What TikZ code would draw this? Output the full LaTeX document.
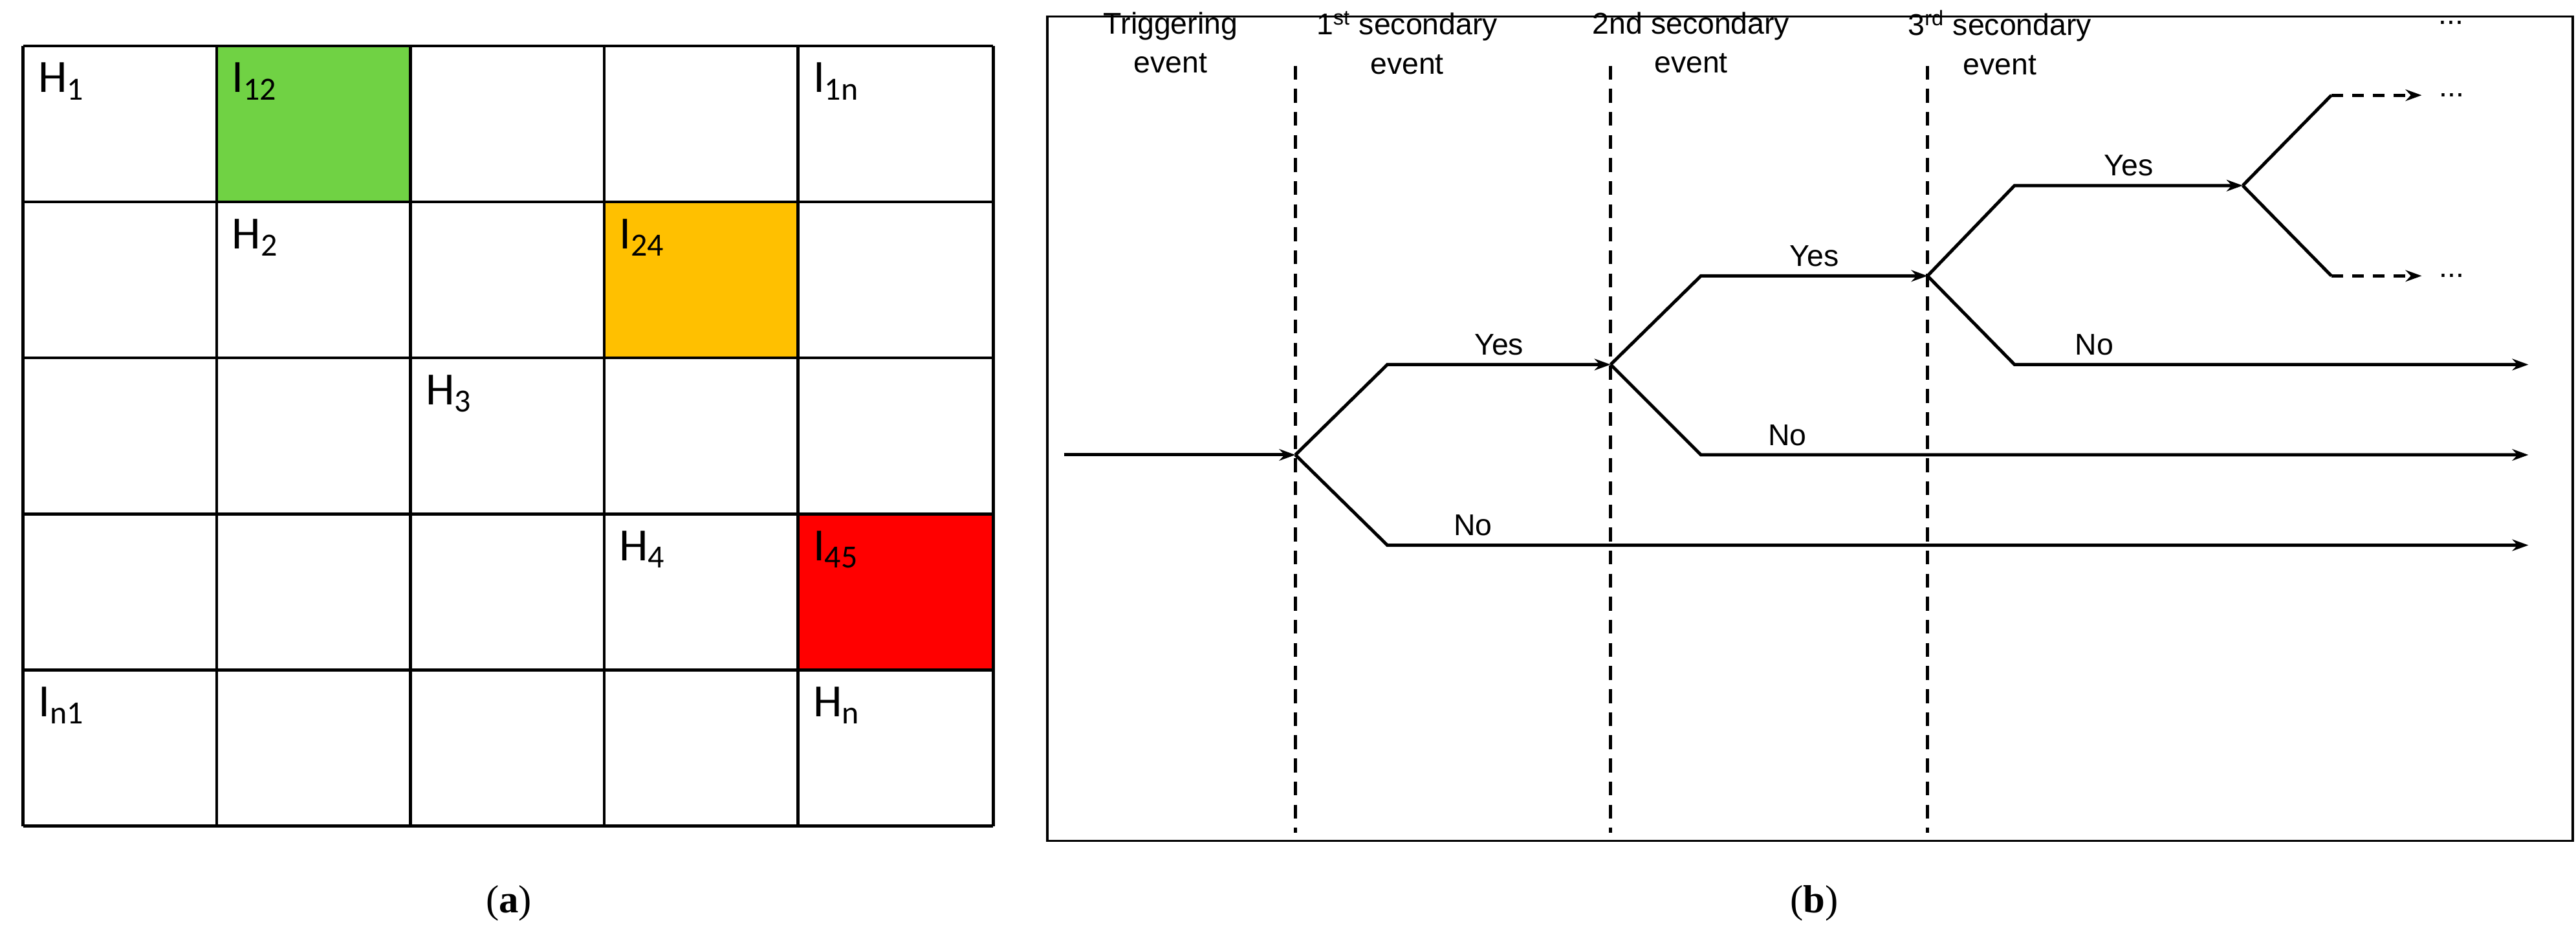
\documentclass[tikz,border=0pt]{standalone}
\usepackage{fontspec}
\setmainfont{Liberation Serif}
\newfontfamily\cellfont{Carlito}
\newfontfamily\treefont{Liberation Sans}
\usetikzlibrary{arrows.meta}
\definecolor{cellgreen}{RGB}{112,210,68}
\definecolor{cellorange}{RGB}{255,192,0}
\definecolor{cellred}{RGB}{255,0,0}
\tikzset{
  cell/.style={anchor=north west,inner sep=0pt,font=\cellfont\fontsize{20}{22}\selectfont},
  head/.style={align=center,font=\treefont\fontsize{13}{17}\selectfont},
  lab/.style={font=\treefont\fontsize{13}{15}\selectfont,above},
  path/.style={line width=1.4pt,-{Stealth[length=7pt,width=5pt]}},
  more/.style={line width=1.4pt,dashed,dash pattern=on 5pt off 4pt,-{Stealth[length=7pt,width=5pt]}},
  subcap/.style={font=\fontsize{17}{20}\selectfont}
}
\begin{document}
\begin{tikzpicture}[x=0.025cm,y=-0.025cm]
  \useasboundingbox (0,0) rectangle (1569,569);

  % matrix
  \fill[cellgreen] (132,28) rectangle (250,123);
  \fill[cellorange] (368,123) rectangle (486,218);
  \fill[cellred] (486,313) rectangle (605,408);
  \foreach \x in {14,132,250,368,486,605}
    \draw[line width=1.2pt] (\x,28) -- (\x,503);
  \foreach \y in {28,123,218,313,408,503}
    \draw[line width=1.2pt] (14,\y) -- (605,\y);

  \node[cell] (h1) at (23,38) {H\textsubscript{1}};
  \node[cell] (i12) at (141,38) {I\textsubscript{12}};
  \node[cell] (i1n) at (495,38) {I\textsubscript{1n}};
  \node[cell] (h2) at (141,133) {H\textsubscript{2}};
  \node[cell] (i24) at (377,133) {I\textsubscript{24}};
  \node[cell] (h3) at (259,228) {H\textsubscript{3}};
  \node[cell] (h4) at (377,323) {H\textsubscript{4}};
  \node[cell] (i45) at (495,323) {I\textsubscript{45}};
  \node[cell] (in1) at (23,418) {I\textsubscript{n1}};
  \node[cell] (hn) at (495,418) {H\textsubscript{n}};

  \node[subcap] (capa) at (310,550) {(\textbf{a})};

  % event tree
  \draw[line width=1pt] (638,10) rectangle (1567,512);
  \foreach \x in {789,981,1174}
    \draw[line width=1.3pt,dash pattern=on 6pt off 4pt] (\x,40) -- (\x,507);

  \node[head] (t0) at (713,26) {Triggering\\event};
  \node[head] (t1) at (857,26) {1\textsuperscript{st} secondary\\event};
  \node[head] (t2) at (1030,26) {2nd secondary\\event};
  \node[head] (t3) at (1218,26) {3\textsuperscript{rd} secondary\\event};
  \node[head] (t4) at (1493,14) {...};

  \coordinate (s0) at (648,277);
  \coordinate (b1) at (789,277);
  \coordinate (y1) at (845,222);
  \coordinate (n1) at (845,332);
  \coordinate (b2) at (981,222);
  \coordinate (y2) at (1036,168);
  \coordinate (n2) at (1036,277);
  \coordinate (b3) at (1174,168);
  \coordinate (y3) at (1227,113);
  \coordinate (n3) at (1227,222);
  \coordinate (b4) at (1366,113);
  \coordinate (y4) at (1420,58);
  \coordinate (n4) at (1420,168);
  \coordinate (e1) at (1540,332);
  \coordinate (e2) at (1540,277);
  \coordinate (e3) at (1540,222);
  \coordinate (e4) at (1475,58);
  \coordinate (e5) at (1475,168);

  \draw[path] (s0) -- (b1);
  \draw[path] (b1) -- (y1) -- node[lab] {Yes} (b2);
  \draw[path] (b1) -- (n1) -- node[lab,pos=0.05,anchor=south west] {No} (e1);
  \draw[path] (b2) -- (y2) -- node[lab] {Yes} (b3);
  \draw[path] (b2) -- (n2) -- node[lab,pos=0.07,anchor=south west] {No} (e2);
  \draw[path] (b3) -- (y3) -- node[lab] {Yes} (b4);
  \draw[path] (b3) -- (n3) -- node[lab,pos=0.1,anchor=south west] {No} (e3);
  \draw[line width=1.4pt] (b4) -- (y4);
  \draw[line width=1.4pt] (b4) -- (n4);
  \draw[more] (y4) -- (e4);
  \draw[more] (n4) -- (e5);
  \node[head,right=4pt] (d1) at (e4) {...};
  \node[head,right=4pt] (d2) at (e5) {...};

  \node[subcap] (capb) at (1105,550) {(\textbf{b})};
\end{tikzpicture}
\end{document}
